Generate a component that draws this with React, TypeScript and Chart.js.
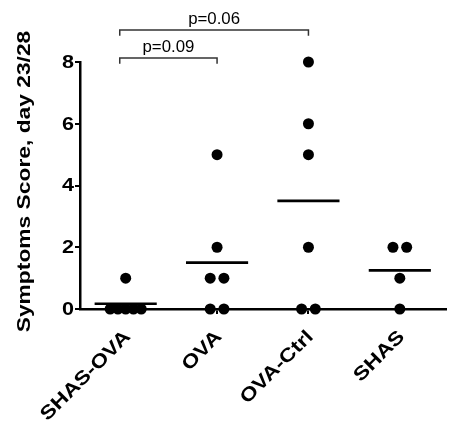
import React, { useEffect, useRef } from 'react';
import { Chart, registerables } from 'chart.js';

Chart.register(...registerables);

// ---- data ----
const categories = ['SHAS-OVA', 'OVA', 'OVA-Ctrl', 'SHAS'];
const shasOvaScores = [1, 0, 0, 0, 0, 0];
const ovaScores = [5, 2, 1, 1, 0, 0];
const ovaCtrlScores = [8, 6, 5, 2, 0, 0];
const shasScores = [2, 2, 1, 0];
const groupMeans = [0.17, 1.5, 3.5, 1.25];
const yTicks = [0, 2, 4, 6, 8];
const yTitle = 'Symptoms Score, day 23/28';
const bracketLabels = ['p=0.09', 'p=0.06'];
const bracketFrom = [-0.065, -0.065];
const bracketTo = [1, 2];
const bracketLevel = [8.13, 9.04];

const groups = [shasOvaScores, ovaScores, ovaCtrlScores, shasScores];

const FONT = '"Liberation Sans", Arial, Helvetica, sans-serif';
const STRETCH = 1.2;

// beeswarm-like horizontal spread of equal values within a group
function swarm(values: number[], index: number) {
  const counts: Record<string, number> = {};
  values.forEach((v) => (counts[v] = (counts[v] || 0) + 1));
  const seen: Record<string, number> = {};
  return values.map((v) => {
    const n = counts[v];
    const k = seen[v] || 0;
    seen[v] = k + 1;
    const step = n > 1 ? Math.min(0.15, 0.34 / (n - 1)) : 0;
    return { x: index + (k - (n - 1) / 2) * step, y: v };
  });
}

const textPlugin = {
  id: 'prismText',
  afterDraw(chart: any) {
    const ctx = chart.ctx as CanvasRenderingContext2D;
    const xs = chart.scales.x;
    const ys = chart.scales.y;
    ctx.save();
    ctx.fillStyle = '#000';

    // y tick labels
    ctx.font = `bold 18px ${FONT}`;
    yTicks.forEach((v) => {
      const py = ys.getPixelForValue(v);
      ctx.save();
      ctx.translate(ys.right - 6, py + 1);
      ctx.scale(STRETCH, 1);
      ctx.textAlign = 'right';
      ctx.textBaseline = 'middle';
      ctx.fillText(String(v), 0, 0);
      ctx.restore();
    });

    // y title
    ctx.font = `bold 19px ${FONT}`;
    ctx.save();
    ctx.translate(25, (ys.top + ys.bottom) / 2 - 4);
    ctx.rotate(-Math.PI / 2);
    ctx.scale(STRETCH, 1);
    ctx.textAlign = 'center';
    ctx.textBaseline = 'middle';
    ctx.fillText(yTitle, 0, 0);
    ctx.restore();

    // x labels rotated 45°
    ctx.font = `bold 19px ${FONT}`;
    categories.forEach((c, i) => {
      const px = xs.getPixelForValue(i);
      ctx.save();
      ctx.translate(px + 2, xs.top + 25);
      ctx.rotate(-Math.PI / 4);
      ctx.scale(STRETCH, 1);
      ctx.textAlign = 'right';
      ctx.textBaseline = 'middle';
      ctx.fillText(c, 0, 0);
      ctx.restore();
    });

    // p-value labels
    ctx.font = `16px ${FONT}`;
    ctx.textAlign = 'center';
    ctx.textBaseline = 'alphabetic';
    bracketLabels.forEach((t, i) => {
      const cx = xs.getPixelForValue((bracketFrom[i] + bracketTo[i]) / 2);
      const py = ys.getPixelForValue(bracketLevel[i]);
      ctx.save();
      ctx.translate(cx, py - 6);
      ctx.scale(1.05, 1);
      ctx.fillText(t, 0, 0);
      ctx.restore();
    });
    ctx.restore();
  },
};

export default function App() {
  const ref = useRef<HTMLCanvasElement | null>(null);

  useEffect(() => {
    if (!ref.current) return;
    const datasets: any[] = [];

    groups.forEach((vals, i) => {
      datasets.push({
        data: swarm(vals, i),
        pointRadius: 5.5,
        pointBackgroundColor: '#000',
        pointBorderWidth: 0,
        showLine: false,
        clip: false,
      });
      datasets.push({
        data: [
          { x: i - 0.34, y: groupMeans[i] },
          { x: i + 0.34, y: groupMeans[i] },
        ],
        showLine: true,
        borderColor: '#000',
        borderWidth: 2.7,
        pointRadius: 0,
        clip: false,
      });
    });

    bracketLabels.forEach((_, i) => {
      datasets.push({
        data: [
          { x: bracketFrom[i], y: bracketLevel[i] - 0.19 },
          { x: bracketFrom[i], y: bracketLevel[i] },
          { x: bracketTo[i], y: bracketLevel[i] },
          { x: bracketTo[i], y: bracketLevel[i] - 0.19 },
        ],
        showLine: true,
        borderColor: '#333',
        borderWidth: 1.5,
        pointRadius: 0,
        clip: false,
      });
    });

    const chart = new Chart(ref.current, {
      type: 'scatter',
      data: { datasets },
      options: {
        animation: false,
        responsive: false,
        layout: { padding: { top: 62, left: 0, right: 0, bottom: 0 } },
        plugins: { legend: { display: false }, tooltip: { enabled: false } },
        scales: {
          x: {
            type: 'linear',
            min: -0.5,
            max: 3.5,
            afterBuildTicks: (s: any) => {
              s.ticks = categories.map((_, i) => ({ value: i }));
            },
            afterFit: (s: any) => {
              s.height = 119;
            },
            ticks: { display: false },
            grid: { drawOnChartArea: false, drawTicks: true, tickLength: 5, color: '#000', lineWidth: 2 },
            border: { color: '#000', width: 2.5 },
          },
          y: {
            type: 'linear',
            min: 0,
            max: 8,
            afterBuildTicks: (s: any) => {
              s.ticks = yTicks.map((v) => ({ value: v }));
            },
            afterFit: (s: any) => {
              s.width = 80;
            },
            ticks: { display: false },
            grid: { drawOnChartArea: false, drawTicks: true, tickLength: 5, color: '#000', lineWidth: 2 },
            border: { color: '#000', width: 2.5 },
          },
        },
      } as any,
      plugins: [textPlugin],
    });
    return () => chart.destroy();
  }, []);

  return (
    <div style={{ position: 'absolute', left: 0, top: 0, width: 451, height: 428, background: '#fff' }}>
      <canvas ref={ref} width={451} height={428} style={{ display: 'block' }} />
    </div>
  );
}
